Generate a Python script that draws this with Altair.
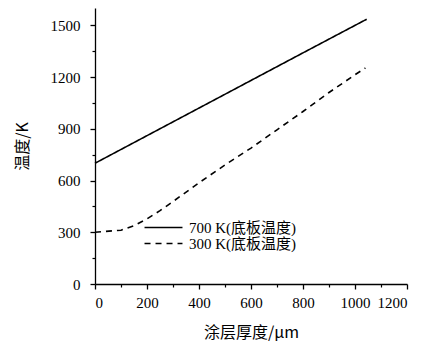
import altair as alt
import pandas as pd

# Data
series_names = ["700 K(底板温度)", "300 K(底板温度)"]
thick_700 = [0, 200, 400, 600, 800, 1045]
temp_700 = [700, 860, 1020, 1180, 1340, 1535]
thick_300 = [0, 100, 150, 200, 250, 300, 400, 500, 600, 700, 800, 900, 1000, 1040]
temp_300 = [300, 312, 338, 378, 425, 478, 587, 690, 788, 894, 1000, 1110, 1213, 1252]

x_major = [0, 200, 400, 600, 800, 1000, 1200]
x_minor = [100, 300, 500, 700, 900, 1100]
y_major = [0, 300, 600, 900, 1200, 1500]
y_minor = [150, 450, 750, 1050, 1350]

df = pd.concat([
    pd.DataFrame({"thick": thick_700, "temp": temp_700, "series": series_names[0]}),
    pd.DataFrame({"thick": thick_300, "temp": temp_300, "series": series_names[1]}),
])

SERIF = "Liberation Serif, Noto Sans CJK SC"
CJK = "Noto Sans CJK SC"

xscale = alt.Scale(domain=[0, 1200], nice=False, zero=False)
yscale = alt.Scale(domain=[0, 1600], nice=False, zero=False)

lines = alt.Chart(df).mark_line(color="black", strokeWidth=1.6).encode(
    x=alt.X("thick:Q", scale=xscale,
            axis=alt.Axis(values=x_major, format="d", orient="bottom",
                          title="涂层厚度/μm", grid=False,
                          domainColor="black", domainWidth=1.3, tickColor="black",
                          tickSize=5, tickWidth=1.3, labelPadding=6,
                          labelFont=SERIF, labelFontSize=15, labelColor="black",
                          titleFont=CJK, titleFontSize=16, titleFontWeight="normal",
                          titleColor="black", titlePadding=14)),
    y=alt.Y("temp:Q", scale=yscale,
            axis=alt.Axis(values=y_major, format="d", orient="left",
                          title="温度/K", grid=False,
                          domainColor="black", domainWidth=1.3, tickColor="black",
                          tickSize=5, tickWidth=1.3, labelPadding=10,
                          labelFont=SERIF, labelFontSize=15, labelColor="black",
                          titleFont=CJK, titleFontSize=16, titleFontWeight="normal",
                          titleColor="black", titlePadding=20)),
    strokeDash=alt.StrokeDash(
        "series:N",
        scale=alt.Scale(domain=series_names, range=[[1, 0], [6, 5]]),
        legend=alt.Legend(title=None, orient="none", legendX=61, legendY=212,
                          symbolType="M-4,0H4", symbolSize=90, symbolStrokeWidth=1.6,
                          symbolFillColor="transparent",
                          symbolStrokeColor="black", labelFont=SERIF, labelFontSize=15,
                          labelColor="black", labelOffset=18, rowPadding=0,
                          labelLimit=300)),
)

minor_x = alt.Chart(pd.DataFrame({"t": x_minor})).mark_point(opacity=0).encode(
    x=alt.X("t:Q", scale=xscale,
            axis=alt.Axis(values=x_minor, orient="bottom", labels=False, title=None,
                          grid=False, domain=False, tickColor="black", tickSize=3,
                          tickWidth=1.2)),
)
minor_y = alt.Chart(pd.DataFrame({"v": y_minor})).mark_point(opacity=0).encode(
    y=alt.Y("v:Q", scale=yscale,
            axis=alt.Axis(values=y_minor, orient="left", labels=False, title=None,
                          grid=False, domain=False, tickColor="black", tickSize=3,
                          tickWidth=1.2)),
)

chart = alt.layer(lines, minor_x, minor_y).resolve_axis(
    x="independent", y="independent"
).properties(
    width=312, height=276,
    autosize=alt.AutoSizeParams(type="none"),
    padding={"left": 87, "top": 0, "right": 10, "bottom": 60},
    background="white",
).configure_view(stroke=None)

chart.save("out.html", embed_options={"renderer": "svg", "actions": False})
